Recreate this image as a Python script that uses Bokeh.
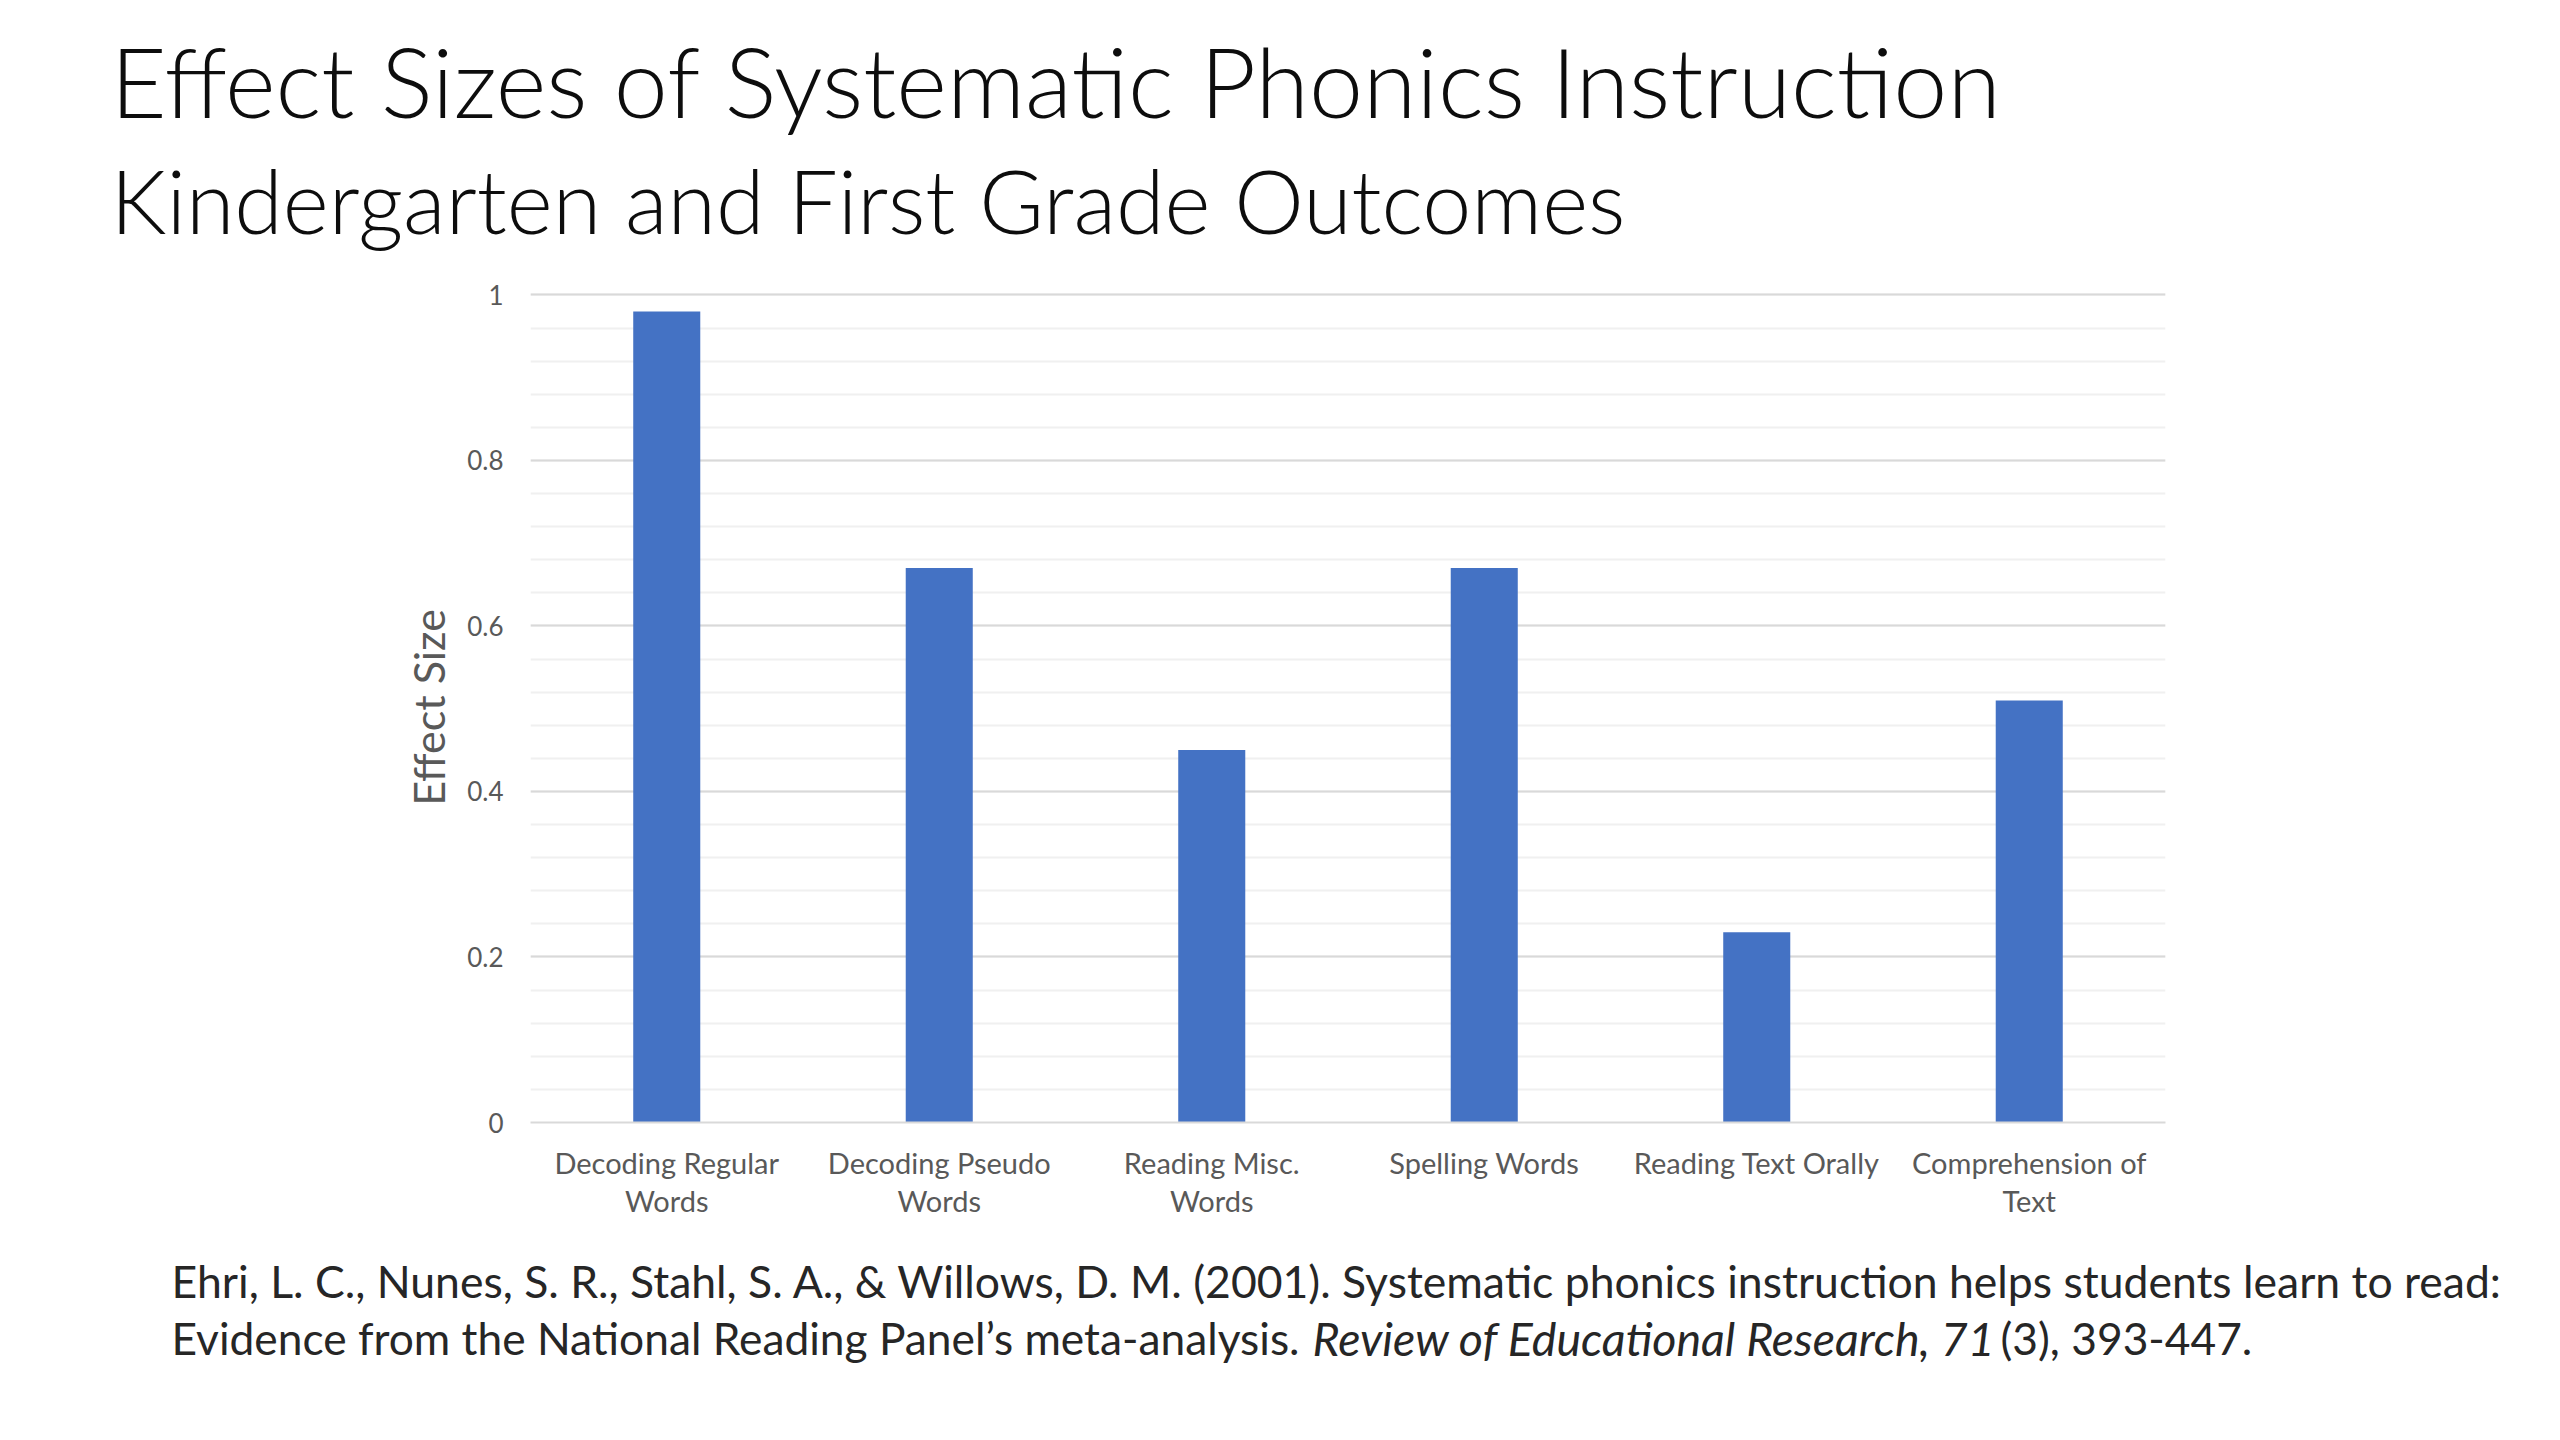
from bokeh.plotting import figure
from bokeh.layouts import column
from bokeh.models import Label, FactorRange, Range1d, SingleIntervalTicker, ColumnDataSource, NumeralTickFormatter
from bokeh.embed import file_html
from bokeh.resources import INLINE

# ---- data ----
categories = ["Decoding Regular\nWords", "Decoding Pseudo\nWords", "Reading Misc.\nWords",
              "Spelling Words", "Reading Text Orally", "Comprehension of\nText"]
effect_sizes = [0.98, 0.67, 0.45, 0.67, 0.23, 0.51]

title_text = "Effect Sizes of Systematic Phonics Instruction"
subtitle_text = "Kindergarten and First Grade Outcomes"
y_label = "Effect Size"
cite_line1 = "Ehri, L. C., Nunes, S. R., Stahl, S. A., & Willows, D. M. (2001). Systematic phonics instruction helps students learn to read:"
cite_line2a = "Evidence from the National Reading Panel\u2019s meta-analysis. "
cite_line2b = "Review of Educational Research, 71"
cite_line2c = "(3), 393-447."

FONT = "Lato"
TITLE_FONT = "Lato Light, Lato"
GRAY = "#595959"
W = 2544
H_TITLE, H_CHART, H_CITE = 270, 977, 177


def text_panel(height):
    f = figure(width=W, height=height, x_range=Range1d(0, 1), y_range=Range1d(0, 1),
               x_axis_location=None, y_axis_location=None, min_border=0,
               output_backend="svg", toolbar_location=None, frame_align=False)
    f.grid.visible = False
    f.outline_line_color = None
    f.background_fill_color = "white"
    f.border_fill_color = "white"
    return f


def add_label(fig, x, y, text, size, style="normal", color="#0d0d0d", font=FONT):
    fig.add_layout(Label(x=x, y=y, x_units="screen", y_units="screen", text=text,
                         text_font=font, text_font_size=size, text_font_style=style,
                         text_color=color, text_baseline="alphabetic", text_align="left"))


# ---- title panel ----
t = text_panel(H_TITLE)
add_label(t, 110, 190, title_text, "97px", font=TITLE_FONT)
add_label(t, 110, 71, subtitle_text, "88px", font=TITLE_FONT)

# ---- chart ----
p = figure(width=W, height=H_CHART,
           x_range=FactorRange(factors=categories, range_padding=0),
           y_range=Range1d(0, 1.003),
           output_backend="svg", toolbar_location=None, frame_align=False,
           min_border_left=530, min_border_right=379,
           min_border_top=22, min_border_bottom=125)
p.outline_line_color = None
p.background_fill_color = "white"
p.border_fill_color = "white"

src = ColumnDataSource(dict(cat=categories, val=effect_sizes))
p.vbar(x="cat", top="val", width=0.246, source=src, fill_color="#4472C4", line_color=None)

p.yaxis.ticker = SingleIntervalTicker(interval=0.2, num_minor_ticks=5)
p.yaxis.formatter = NumeralTickFormatter(format="0.[0]")
p.yaxis.axis_line_color = None
p.yaxis.major_tick_line_color = None
p.yaxis.minor_tick_line_color = None
p.yaxis.major_label_text_font = FONT
p.yaxis.major_label_text_font_size = "26px"
p.yaxis.major_label_text_color = GRAY
p.yaxis.major_label_standoff = 21
p.yaxis.axis_label = y_label
p.yaxis.axis_label_text_font = FONT
p.yaxis.axis_label_text_font_size = "43px"
p.yaxis.axis_label_text_font_style = "normal"
p.yaxis.axis_label_text_color = GRAY
p.yaxis.axis_label_standoff = 10

p.xaxis.axis_line_color = "#d9d9d9"
p.xaxis.axis_line_width = 2
p.xaxis.major_tick_line_color = None
p.xaxis.minor_tick_line_color = None
p.xaxis.major_label_text_font = FONT
p.xaxis.major_label_text_font_size = "29px"
p.xaxis.major_label_text_color = GRAY
p.xaxis.major_label_standoff = 16
p.xaxis.major_label_text_line_height = 1.1

p.xgrid.visible = False
p.ygrid.grid_line_color = "#d9d9d9"
p.ygrid.grid_line_width = 2
p.ygrid.minor_grid_line_color = "#f0f0f0"
p.ygrid.minor_grid_line_width = 2

# ---- citation panel ----
c = text_panel(H_CITE)
CITE = "#262626"
add_label(c, 171, 144, cite_line1, "44.5px", color=CITE)
add_label(c, 171, 87, cite_line2a, "44.3px", color=CITE)
add_label(c, 1312, 87, cite_line2b, "46.5px", style="italic", color=CITE)
add_label(c, 2000, 87, cite_line2c, "44.3px", color=CITE)

layout = column(t, p, c, spacing=0)
open("out.html", "w").write(file_html(layout, INLINE))
